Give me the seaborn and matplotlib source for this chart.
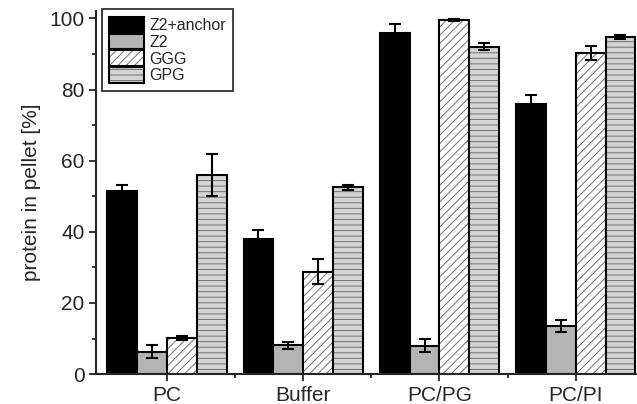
import numpy as np
import pandas as pd
import matplotlib
matplotlib.use("Agg")
import matplotlib.pyplot as plt
import matplotlib.colors as mcolors
from matplotlib.ticker import MultipleLocator, FixedLocator
import seaborn as sns

# 数据
conditions = ["PC", "Buffer", "PC/PG", "PC/PI"]
series = ["Z2+anchor", "Z2", "GGG", "GPG"]
z2_anchor = [51.5, 38.0, 96.0, 76.0]
z2_anchor_err = [1.6, 2.5, 2.5, 2.5]
z2 = [6.3, 8.1, 8.0, 13.5]
z2_err = [1.9, 1.0, 1.8, 1.6]
ggg = [10.2, 28.8, 99.5, 90.3]
ggg_err = [0.5, 3.5, 0.2, 1.9]
gpg = [56.0, 52.5, 92.0, 94.8]
gpg_err = [6.0, 0.8, 1.0, 0.6]

colors = ["#000000", "#b4b4b4", "#ffffff", "#d4d4d4"]
hatches = ["", "", "////", "---"]

values = [z2_anchor, z2, ggg, gpg]
errors = [z2_anchor_err, z2_err, ggg_err, gpg_err]

rows = []
for s, vals in zip(series, values):
    for c, v in zip(conditions, vals):
        rows.append({"cond": c, "series": s, "val": v})
df = pd.DataFrame(rows)


def main():
    sns.set_style("ticks")
    plt.rcParams["font.family"] = ["Liberation Sans", "DejaVu Sans"]
    plt.rcParams["hatch.linewidth"] = 0.7

    fig = plt.figure(figsize=(6.37, 4.04), dpi=100)
    ax = fig.add_axes([0.151, 0.074, 0.849, 0.898])

    sns.barplot(data=df, x="cond", y="val", hue="series", palette=colors,
                width=0.876, edgecolor="black", linewidth=1.5, saturation=1,
                errorbar=None, ax=ax)

    for cont, h, errs in zip(ax.containers, hatches, errors):
        xs = []
        for bar in cont:
            bar.set_hatch(h)
            bar._hatch_color = mcolors.to_rgba("#707070")
            xs.append(bar.get_x() + bar.get_width() / 2)
        ys = [b.get_height() for b in cont]
        ax.errorbar(xs, ys, yerr=errs, fmt="none", ecolor="black",
                    elinewidth=1.5, capsize=4, capthick=1.5, zorder=5)

    ax.set_xlim(-0.52, 3.45)
    ax.set_ylim(0, 102)
    ax.set_xlabel("")
    ax.set_ylabel("protein in pellet [%]", fontsize=15, labelpad=6)
    ax.yaxis.set_major_locator(MultipleLocator(20))
    ax.yaxis.set_minor_locator(MultipleLocator(10))
    ax.xaxis.set_minor_locator(FixedLocator([0.5, 1.5, 2.5]))
    ax.tick_params(axis="both", which="major", labelsize=15, length=5,
                   width=1.3, direction="out")
    ax.tick_params(axis="both", which="minor", length=3, width=1.3,
                   direction="out")
    sns.despine(ax=ax)
    for sp in ["left", "bottom"]:
        ax.spines[sp].set_linewidth(1.5)

    leg = ax.legend(loc="upper left", bbox_to_anchor=(0.011, 1.005),
                    borderaxespad=0, fontsize=11.5, frameon=True,
                    fancybox=False, handlelength=2.2, handleheight=1.1,
                    labelspacing=0.05, handletextpad=0.3, borderpad=0.45)
    leg.get_frame().set_edgecolor("black")
    leg.get_frame().set_linewidth(1.3)
    for p, h in zip(leg.get_patches(), hatches):
        p.set_hatch(h)
        p._hatch_color = mcolors.to_rgba("#707070")

    fig.savefig("out.png", dpi=100)


if __name__ == "__main__":
    main()
